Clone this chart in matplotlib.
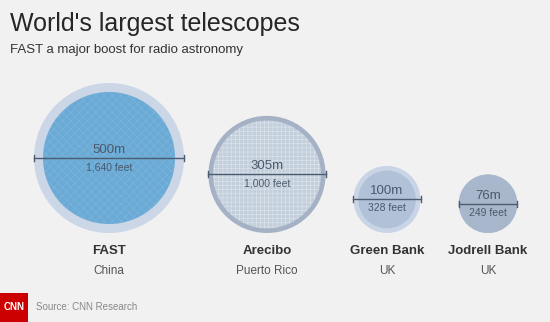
import matplotlib.pyplot as plt
from matplotlib.patches import Circle, Rectangle
import numpy as np

plt.rcParams['font.family'] = ['Liberation Sans', 'DejaVu Sans']
plt.rcParams['hatch.linewidth'] = 0.35

# data
names = ['FAST', 'Arecibo', 'Green Bank', 'Jodrell Bank']
countries = ['China', 'Puerto Rico', 'UK', 'UK']
metres = [500, 305, 100, 76]
feet = ['1,640', '1,000', '328', '249']

# layout / style (pixel coords)
centers_x = [109, 267, 387, 488]
baseline = 233
max_r = 75
outer_colors = ['#cbd6e7', '#a5b2c5', '#c9d5e6', '#a9b7cc']
inner_colors = ['#6aaad5', '#c4cfdc', '#b1c2d8', '#a9b7cc']
inner_frac = [0.88, 0.92, 0.86, 1.0]
hatches = ['xxxx', '++++', None, None]
hatch_colors = ['#80b8de', '#e2e8ef', None, None]

fig = plt.figure(figsize=(5.5, 3.22), dpi=100, facecolor='#f1f1f1')
ax = fig.add_axes([0, 0, 1, 1])
ax.set_xlim(0, 550)
ax.set_ylim(322, 0)
ax.set_aspect('equal')
ax.axis('off')

for i, name in enumerate(names):
    r = max_r * np.sqrt(metres[i] / metres[0])
    cx = centers_x[i]
    cy = baseline - r
    ax.add_patch(Circle((cx, cy), r, facecolor=outer_colors[i], edgecolor='none'))
    ax.add_patch(Circle((cx, cy), r * inner_frac[i], facecolor=inner_colors[i], edgecolor='none'))
    if hatches[i]:
        ax.add_patch(Circle((cx, cy), r * inner_frac[i], fill=False, hatch=hatches[i],
                            edgecolor=hatch_colors[i], linewidth=0))

    # dimension line
    ax.plot([cx - r, cx + r], [cy, cy], color='#4d5d70', lw=1)
    ax.plot([cx - r, cx - r], [cy - 3, cy + 3], color='#4d5d70', lw=1)
    ax.plot([cx + r, cx + r], [cy - 3, cy + 3], color='#4d5d70', lw=1)

    ax.text(cx, cy - 8, f'{metres[i]}m', ha='center', va='center', fontsize=9.5, color='#4a5a6c')
    ax.text(cx, cy + 9, f'{feet[i]} feet', ha='center', va='center', fontsize=7.5, color='#4a5a6c')

    ax.text(cx, 251, name, ha='center', va='center', fontsize=9.5, fontweight='bold', color='#333333')
    ax.text(cx, 271, countries[i], ha='center', va='center', fontsize=8.5, color='#555555')

# titles
ax.text(10, 24, "World's largest telescopes", ha='left', va='center', fontsize=18, color='#262626')
ax.text(10, 50, 'FAST a major boost for radio astronomy', ha='left', va='center', fontsize=9.5, color='#333333')

# footer
ax.add_patch(Rectangle((0, 293), 28, 29, facecolor='#cc0000', edgecolor='none'))
ax.text(14, 307, 'CNN', ha='center', va='center', fontsize=7, fontweight='bold', color='white')
ax.text(36, 307, 'Source: CNN Research', ha='left', va='center', fontsize=7, color='#888888')

fig.savefig('out.png', dpi=100, facecolor=fig.get_facecolor())
